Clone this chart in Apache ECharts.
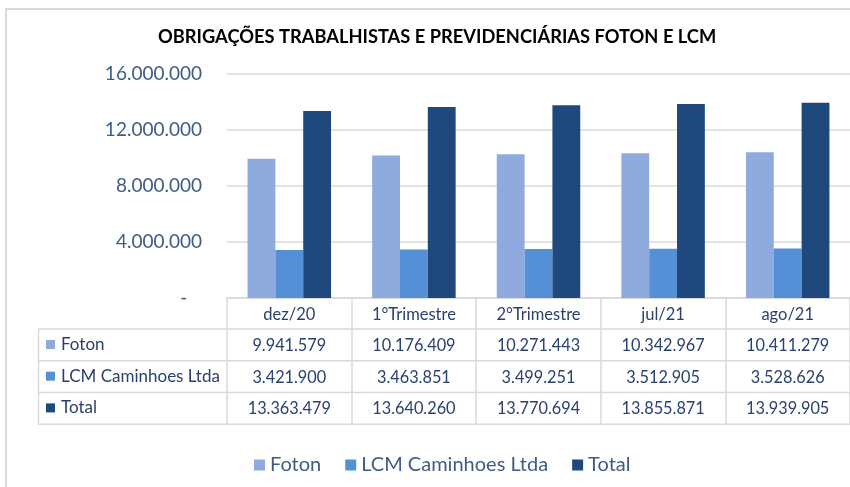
<!DOCTYPE html>
<html>
<head>
<meta charset="utf-8">
<script src="https://cdn.jsdelivr.net/npm/echarts@6/dist/echarts.min.js"></script>
<style>html,body{margin:0;padding:0;background:#fff}#c{width:850px;height:487px}</style>
</head>
<body>
<div id="c"></div>
<script>
const titleText = 'OBRIGAÇÕES TRABALHISTAS E PREVIDENCIÁRIAS FOTON E LCM';
const categories = ['dez/20', '1°Trimestre', '2°Trimestre', 'jul/21', 'ago/21'];
const seriesNames = ['Foton', 'LCM Caminhoes Ltda', 'Total'];
const foton = [9941579, 10176409, 10271443, 10342967, 10411279];
const lcm = [3421900, 3463851, 3499251, 3512905, 3528626];
const total = [13363479, 13640260, 13770694, 13855871, 13939905];
const yTicks = [0, 4000000, 8000000, 12000000, 16000000];

const colors = ['#8FAADC', '#5590D6', '#1F497D'];
const FONT = 'Lato, "Open Sans", sans-serif';
const gridLine = '#D9D9D9';
const axisText = '#3E5C8A';
const tableText = '#2A416F';

function fmt(v) {
  return String(Math.round(v)).replace(/\B(?=(\d{3})+(?!\d))/g, '.');
}

const rows = [foton, lcm, total];
const rowH = 31.7;
const gridLeft = 227, gridTop = 74, gridBottomY = 298, catW = 126.35;

const chart = echarts.init(document.getElementById('c'));

const xAxes = [{
  type: 'category', data: categories, gridIndex: 0, position: 'bottom',
  axisLine: { show: true, lineStyle: { color: gridLine, width: 1.5 } },
  axisTick: { show: true, length: 126.5, interval: 0, lineStyle: { color: gridLine, width: 1.5 } },
  axisLabel: { margin: 8, fontSize: 16.5, fontFamily: FONT, color: tableText, interval: 0 }
}];
rows.forEach((arr, r) => {
  xAxes.push({
    type: 'category', data: categories, gridIndex: 0, position: 'bottom',
    offset: rowH * (r + 1),
    axisLine: { show: false }, axisTick: { show: false },
    axisLabel: {
      margin: 8, fontSize: 16.3, fontFamily: FONT, color: tableText, interval: 0,
      formatter: (v, i) => fmt(arr[i])
    }
  });
});

const graphics = [
  { type: 'rect', shape: { x: 6, y: 9, width: 900, height: 600 }, style: { fill: null, stroke: gridLine, lineWidth: 2 }, silent: true }
];
[329, 360.7, 392.4, 424.2].forEach(y => {
  graphics.push({ type: 'line', shape: { x1: 38, y1: y, x2: 860, y2: y }, style: { stroke: gridLine, lineWidth: 1.5 }, silent: true });
});
graphics.push({ type: 'line', shape: { x1: 38.5, y1: 329, x2: 38.5, y2: 424.2 }, style: { stroke: gridLine, lineWidth: 1.5 }, silent: true });
seriesNames.forEach((name, r) => {
  const cy = 344.5 + rowH * r;
  graphics.push({ type: 'rect', shape: { x: 46, y: cy - 4.5, width: 9, height: 9 }, style: { fill: colors[r] }, silent: true });
  graphics.push({ type: 'text', x: 61, y: cy, style: { text: name, font: '17px ' + FONT, fill: tableText, textVerticalAlign: 'middle', verticalAlign: 'middle' }, silent: true });
});

chart.setOption({
  animation: false,
  title: {
    text: titleText, left: 153, top: 23,
    textStyle: { fontFamily: FONT, fontWeight: 'bold', fontSize: 18.3, color: '#000' }
  },
  grid: { left: gridLeft, top: gridTop, width: catW * 5, height: gridBottomY - gridTop, containLabel: false },
  legend: {
    data: seriesNames, bottom: 7, left: 249,
    icon: 'rect', itemWidth: 11, itemHeight: 11, itemGap: 24,
    textStyle: { fontFamily: FONT, fontSize: 20, color: axisText }
  },
  xAxis: xAxes,
  yAxis: {
    type: 'value', min: 0, max: 16000000, interval: 4000000,
    axisLine: { show: false }, axisTick: { show: false },
    splitLine: { lineStyle: { color: gridLine, width: 1.5 } },
    axisLabel: {
      margin: 25, fontSize: 19, fontFamily: FONT, color: axisText,
      formatter: v => (v === 0 ? '-   ' : fmt(v))
    }
  },
  series: [
    { name: seriesNames[0], type: 'bar', data: foton, itemStyle: { color: colors[0] }, barGap: '0%', barCategoryGap: '33%' },
    { name: seriesNames[1], type: 'bar', data: lcm, itemStyle: { color: colors[1] }, barGap: '0%', barCategoryGap: '33%' },
    { name: seriesNames[2], type: 'bar', data: total, itemStyle: { color: colors[2] }, barGap: '0%', barCategoryGap: '33%' }
  ],
  graphic: graphics
});
</script>
</body>
</html>
